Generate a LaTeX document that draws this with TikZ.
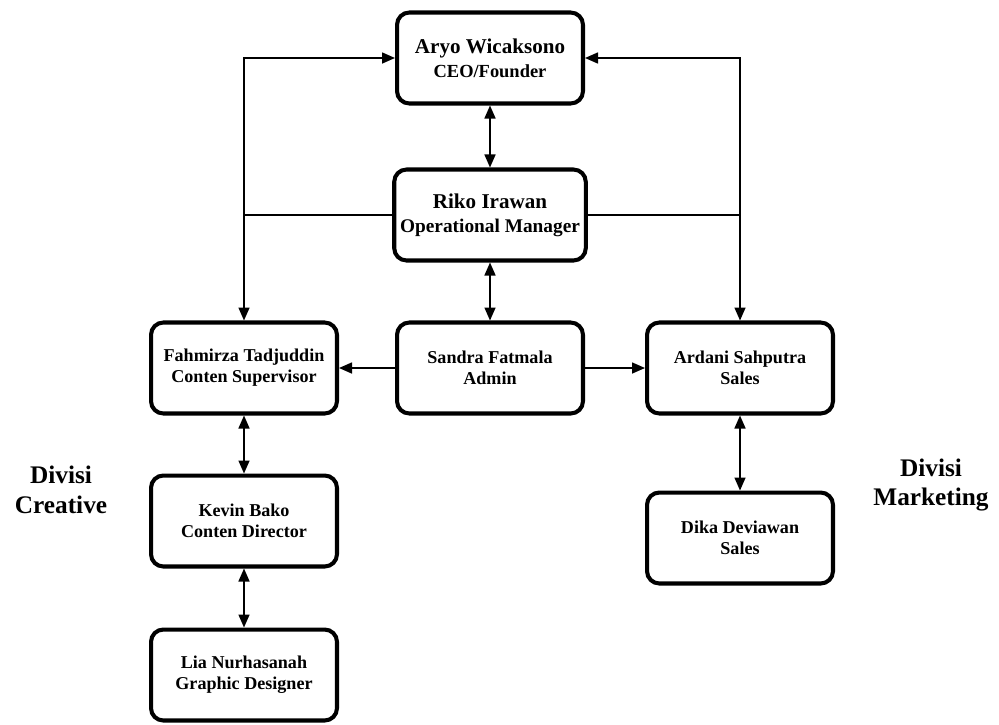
\documentclass[tikz,border=0pt]{standalone}
\usepackage{fontspec}
\setmainfont{Liberation Serif}
\usetikzlibrary{arrows.meta}
\begin{document}
\begin{tikzpicture}[x=0.02cm, y=-0.02cm,
    box/.style={draw, line width=2.3pt, rounded corners=7pt, align=center,
      minimum width=3.72cm, minimum height=1.82cm, font=\bfseries\fontsize{10.3}{12}\selectfont},
    bigbox/.style={box, font=\bfseries\fontsize{12}{13.6}\selectfont},
    divisi/.style={align=center, font=\bfseries\fontsize{14.4}{17}\selectfont},
    >={Triangle[length=2.6mm, width=2.2mm]}, line width=0.9pt]
    \useasboundingbox (0,0) rectangle (999,724);
    \node (ceo) [bigbox] at (490,58) {Aryo Wicaksono\\{\fontsize{10.5}{12}\selectfont CEO/Founder}};
    \node (riko) [bigbox] at (490,215) {Riko Irawan\\{\fontsize{11}{12}\selectfont Operational Manager}};
    \node (sandra) [box] at (490,368) {Sandra Fatmala\\Admin};
    \node (fahmirza) [box] at (244,368) {Fahmirza Tadjuddin\\Conten Supervisor};
    \node (ardani) [box] at (740,368) {Ardani Sahputra\\Sales};
    \node (kevin) [box] at (244,521) {Kevin Bako\\Conten Director};
    \node (lia) [box] at (244,675) {Lia Nurhasanah\\Graphic Designer};
    \node (dika) [box] at (740,538) {Dika Deviawan\\Sales};
    \node (creative) [divisi] at (61,490) {Divisi\\Creative};
    \node (marketing) [divisi] at (931,485) {Divisi\\Marketing};
    \draw[->] (riko.west) -| (fahmirza.north);
    \draw[->] (fahmirza.north |- riko.west) |- (ceo.west);
    \draw[->] (riko.east) -| (ardani.north);
    \draw[->] (ardani.north |- riko.east) |- (ceo.east);
    \draw[<->] (ceo) -- (riko);
    \draw[<->] (riko) -- (sandra);
    \draw[->] (sandra) -- (fahmirza);
    \draw[->] (sandra) -- (ardani);
    \draw[<->] (fahmirza) -- (kevin);
    \draw[<->] (kevin) -- (lia);
    \draw[<->] (ardani) -- (dika);
  \end{tikzpicture}
\end{document}
